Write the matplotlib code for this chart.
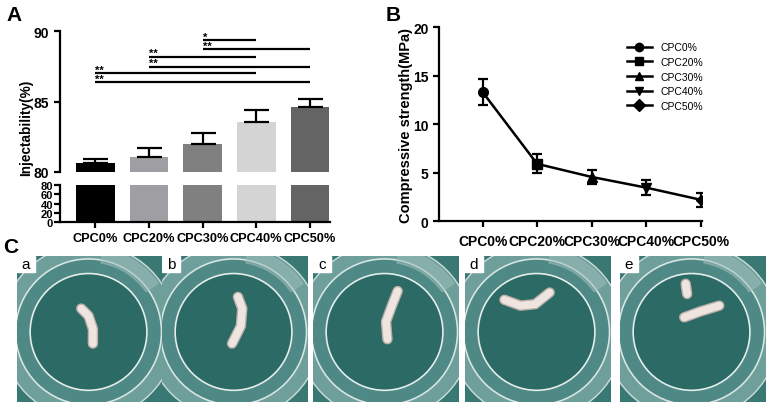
import numpy as np
import matplotlib.pyplot as plt
from matplotlib.patches import Circle, Wedge, Rectangle

plt.rcParams['font.family'] = ['Liberation Sans', 'DejaVu Sans']
plt.rcParams['font.weight'] = 'bold'
plt.rcParams['axes.labelweight'] = 'bold'

groups = ['CPC0%', 'CPC20%', 'CPC30%', 'CPC40%', 'CPC50%']

# panel A: injectability
inject_mean = [80.65, 81.05, 81.97, 83.57, 84.6]
inject_err = [0.28, 0.64, 0.78, 0.83, 0.6]
bar_colors = ['#000000', '#9e9ea3', '#808080', '#d4d4d4', '#646464']
# significance brackets: (start group, end group, height, label)
sig_pairs = [(2, 3, 89.36, '*'), (2, 4, 88.72, '**'), (1, 3, 88.18, '**'),
             (1, 4, 87.47, '**'), (0, 3, 87.0, '**'), (0, 4, 86.36, '**')]

# panel B: compressive strength
strength_mean = [13.3, 5.9, 4.55, 3.45, 2.2]
strength_err = [1.33, 0.97, 0.72, 0.78, 0.7]
markers = ['o', 's', '^', 'v', 'D']
marker_sizes = [7, 7, 7, 7, 5]

# panel C: photo panels, strand outline points in the photo's 0-1 frame
photo_labels = ['a', 'b', 'c', 'd', 'e']
photo_left_px = [17, 162, 313, 465, 620]
strands = [
    [[(0.44, 0.64), (0.49, 0.59), (0.52, 0.50), (0.52, 0.40)]],
    [[(0.52, 0.72), (0.55, 0.64), (0.54, 0.52), (0.48, 0.40)]],
    [[(0.58, 0.76), (0.54, 0.66), (0.50, 0.55), (0.51, 0.43)]],
    [[(0.27, 0.70), (0.38, 0.66), (0.48, 0.67), (0.58, 0.75)]],
    [[(0.44, 0.58), (0.55, 0.62), (0.68, 0.66)], [(0.45, 0.81), (0.46, 0.74)]],
]

fig = plt.figure(figsize=(7.68, 4.06), dpi=100)
x = np.arange(len(groups))

ax_top = fig.add_axes([0.078, 0.574, 0.352, 0.347])
ax_bot = fig.add_axes([0.078, 0.451, 0.352, 0.090])

for ax in (ax_top, ax_bot):
    ax.bar(x, inject_mean, width=0.72, color=bar_colors, zorder=2)
    ax.set_xlim(-0.66, 4.38)
    for s in ['top', 'right']:
        ax.spines[s].set_visible(False)
    ax.spines['left'].set_linewidth(1.6)
    ax.spines['bottom'].set_linewidth(1.6)
    ax.tick_params(width=1.6, length=4, labelsize=10)

ax_top.errorbar(x, inject_mean, yerr=[np.zeros(5), inject_err], fmt='none',
                ecolor='black', elinewidth=1.6, capsize=9, capthick=1.6, zorder=3)
ax_top.set_ylim(80, 90)
ax_top.set_yticks([80, 85, 90])
ax_top.spines['bottom'].set_visible(False)
ax_top.set_xticks([])
ax_top.set_ylabel('Injectability(%)', fontsize=9.8)
ax_top.yaxis.set_label_coords(-0.10, 0.32)

for a, b, h, lab in sig_pairs:
    ax_top.plot([a, b], [h, h], color='black', lw=1.6, solid_capstyle='butt')
    ax_top.text(a, h + 0.03, lab, fontsize=8, ha='left', va='baseline')

ax_bot.set_ylim(0, 80)
ax_bot.set_yticks([0, 20, 40, 60, 80])
ax_bot.tick_params(axis='y', labelsize=8, pad=1)
ax_bot.set_xticks(x)
ax_bot.set_xticklabels(groups, fontsize=9.2)
ax_bot.tick_params(axis='x', length=4, pad=3)

# panel B
axb = fig.add_axes([0.5716, 0.453, 0.342, 0.478])
axb.plot(x, strength_mean, color='black', lw=1.8, zorder=2)
for i in range(len(groups)):
    axb.errorbar(x[i], strength_mean[i], yerr=strength_err[i], fmt=markers[i],
                 color='black', ms=marker_sizes[i], elinewidth=1.6, capsize=3.5,
                 capthick=1.6, label=groups[i], zorder=3)
axb.set_xlim(-0.8, 4.02)
axb.set_ylim(0, 20)
axb.set_yticks([0, 5, 10, 15, 20])
axb.set_xticks(x)
axb.set_xticklabels(groups, fontsize=9.2)
for s in ['top', 'right']:
    axb.spines[s].set_visible(False)
axb.spines['left'].set_linewidth(1.6)
axb.spines['bottom'].set_linewidth(1.6)
axb.tick_params(width=1.6, length=4, labelsize=10)
axb.tick_params(axis='x', pad=5)
axb.set_ylabel('Compressive strength(MPa)', fontsize=10.5)
axb.yaxis.set_label_coords(-0.1, 0.5)
handles, labels = axb.get_legend_handles_labels()
handles = [h[0] for h in handles]
leg = axb.legend(handles, labels, loc='upper right', bbox_to_anchor=(1.04, 0.97),
                 frameon=False, handlelength=2.4, labelspacing=0.45,
                 prop={'weight': 'normal', 'size': 7.5})
for h in leg.legend_handles:
    h.set_linestyle('-')
    h.set_linewidth(1.8)
    h.set_markersize(6)

# panel letters
fig.text(0.008, 0.985, 'A', fontsize=15, va='top')
fig.text(0.502, 0.985, 'B', fontsize=15, va='top')
fig.text(0.004, 0.415, 'C', fontsize=15, va='top')

# panel C photos
pw, ph = 146 / 768, 146 / 406
for k in range(5):
    axp = fig.add_axes([photo_left_px[k] / 768, 3 / 406, pw, ph])
    axp.set_xlim(0, 1)
    axp.set_ylim(0, 1)
    axp.set_facecolor('#3a7874')
    axp.set_xticks([])
    axp.set_yticks([])
    for s in axp.spines.values():
        s.set_visible(False)
    cx, cy = 0.49, 0.48
    axp.add_patch(Circle((cx, cy), 0.60, color='#6f9f9b', zorder=1))
    axp.add_patch(Circle((cx, cy), 0.60, fill=False, ec='#c9dbd8', lw=1.0, zorder=2))
    axp.add_patch(Circle((cx, cy), 0.50, color='#4f8985', zorder=1))
    axp.add_patch(Circle((cx, cy), 0.50, fill=False, ec='#d8e6e3', lw=1.2, zorder=2))
    axp.add_patch(Circle((cx, cy), 0.40, color='#2c6a65', zorder=2))
    axp.add_patch(Circle((cx, cy), 0.40, fill=False, ec='#e4eeec', lw=1.2, zorder=3))
    axp.add_patch(Wedge((cx, cy), 0.58, 35, 80, width=0.1, color='#9dbdb9',
                        alpha=0.5, zorder=2))
    for seg in strands[k]:
        px, py = zip(*seg)
        axp.plot(px, py, color='#bdb0aa', lw=7.5, solid_capstyle='round', zorder=4)
        axp.plot(px, py, color='#efe5e0', lw=5.5, solid_capstyle='round', zorder=5)
    axp.add_patch(Rectangle((0, 0.89), 0.12, 0.11, color='white', zorder=6))
    axp.text(0.06, 0.945, photo_labels[k], fontsize=11, weight='normal',
             ha='center', va='center', zorder=7)

fig.savefig('out.png', dpi=100)
